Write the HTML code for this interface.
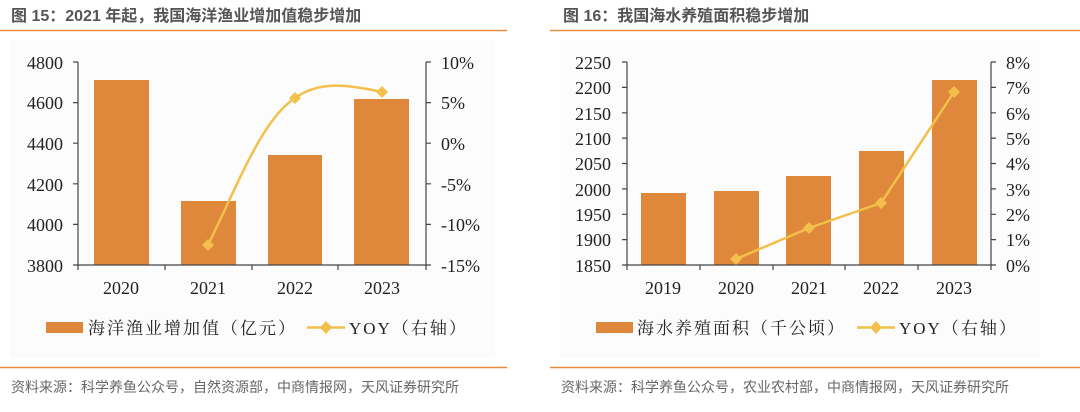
<!DOCTYPE html><html><head><meta charset="utf-8"><style>
body{margin:0;background:#fff;width:1080px;height:407px;overflow:hidden}
svg text{font-family:"Liberation Serif","Noto Serif CJK SC",serif}
.t{font-family:"Liberation Sans","Noto Sans CJK SC",sans-serif;font-weight:bold;font-size:16px;fill:#555}
.s{font-family:"Liberation Sans","Noto Sans CJK SC",sans-serif;font-size:14px;fill:#666}
.k{font-size:18px;fill:#222}
.l{font-size:17px;fill:#222;font-family:"Liberation Serif","Noto Serif CJK SC",serif;letter-spacing:2px}
</style></head><body>
<svg width="1080" height="407" xmlns="http://www.w3.org/2000/svg">
<rect x="10" y="40" width="485" height="318" fill="#fcfcfc"/>
<rect x="560" y="40" width="480" height="318" fill="#fcfcfc"/>
<text class="t" x="11" y="21">图 15：2021 年起，我国海洋渔业增加值稳步增加</text>
<text class="t" x="563" y="21">图 16：我国海水养殖面积稳步增加</text>
<line x1="0" y1="30.5" x2="507" y2="30.5" stroke="#ec8a3c" stroke-width="1.5"/>
<line x1="550" y1="30.5" x2="1080" y2="30.5" stroke="#ec8a3c" stroke-width="1.5"/>
<line x1="0" y1="367.5" x2="507" y2="367.5" stroke="#ec8a3c" stroke-width="1.5"/>
<line x1="550" y1="367.5" x2="1080" y2="367.5" stroke="#ec8a3c" stroke-width="1.5"/>
<text class="s" x="11" y="392">资料来源：科学养鱼公众号，自然资源部，中商情报网，天风证券研究所</text>
<text class="s" x="561" y="392">资料来源：科学养鱼公众号，农业农村部，中商情报网，天风证券研究所</text>

<!-- chart 1 -->
<g fill="#df873b">
<rect x="94" y="80" width="55" height="185"/><rect x="181" y="201" width="55" height="64"/>
<rect x="268" y="155" width="54" height="110"/><rect x="354" y="99" width="55" height="166"/></g>
<g stroke="#444" stroke-width="1.2" fill="none">
<path d="M78 62V265M426 62V265M78 265H426"/>
<path d="M73 62H78M73 102.6H78M73 143.2H78M73 183.8H78M73 224.4H78M73 265H78"/>
<path d="M426 62H431M426 102.6H431M426 143.2H431M426 183.8H431M426 224.4H431M426 265H431"/>
<path d="M78 265V270M165 265V270M252 265V270M338 265V270M426 265V270"/></g>
<g class="k" text-anchor="end"><text x="63" y="69">4800</text><text x="63" y="109">4600</text><text x="63" y="150">4400</text><text x="63" y="191">4200</text><text x="63" y="231">4000</text><text x="63" y="272">3800</text></g>
<g class="k"><text x="441" y="69">10%</text><text x="441" y="109">5%</text><text x="441" y="150">0%</text><text x="441" y="191">-5%</text><text x="441" y="231">-10%</text><text x="441" y="272">-15%</text></g>
<g class="k" text-anchor="middle"><text x="121" y="294">2020</text><text x="208" y="294">2021</text><text x="295" y="294">2022</text><text x="382" y="294">2023</text></g>
<path d="M208 245C240 180 262 120 295 98C320 80 350 85 382 92" stroke="#f2c04b" stroke-width="2.5" fill="none"/>
<g fill="#f2c04b"><path d="M208 239l6 6-6 6-6-6z"/><path d="M295 92l6 6-6 6-6-6z"/><path d="M382 86l6 6-6 6-6-6z"/></g>
<rect x="46" y="322" width="37" height="11" fill="#df873b"/>
<text class="l" x="88" y="334">海洋渔业增加值（亿元）</text>
<line x1="307" y1="327.5" x2="345" y2="327.5" stroke="#f2c04b" stroke-width="2.5"/><path d="M326 321l6 6.5-6 6.5-6-6.5z" fill="#f2c04b"/>
<text class="l" x="349" y="334">YOY（右轴）</text>

<!-- chart 2 -->
<g fill="#df873b">
<rect x="641" y="193" width="45" height="72"/><rect x="714" y="191" width="45" height="74"/>
<rect x="786" y="176" width="45" height="89"/><rect x="859" y="151" width="45" height="114"/><rect x="932" y="80" width="45" height="185"/></g>
<g stroke="#444" stroke-width="1.2" fill="none">
<path d="M627 62V265M991 62V265M627 265H991"/>
<path d="M622 62H627M622 87.4H627M622 112.8H627M622 138.1H627M622 163.5H627M622 188.9H627M622 214.3H627M622 239.6H627M622 265H627"/>
<path d="M991 62H996M991 87.4H996M991 112.8H996M991 138.1H996M991 163.5H996M991 188.9H996M991 214.3H996M991 239.6H996M991 265H996"/>
<path d="M627 265V270M700 265V270M773 265V270M845 265V270M918 265V270M991 265V270"/></g>
<g class="k" text-anchor="end"><text x="611" y="69">2250</text><text x="611" y="94">2200</text><text x="611" y="120">2150</text><text x="611" y="145">2100</text><text x="611" y="170">2050</text><text x="611" y="196">2000</text><text x="611" y="221">1950</text><text x="611" y="246">1900</text><text x="611" y="272">1850</text></g>
<g class="k"><text x="1006" y="69">8%</text><text x="1006" y="94">7%</text><text x="1006" y="120">6%</text><text x="1006" y="145">5%</text><text x="1006" y="170">4%</text><text x="1006" y="196">3%</text><text x="1006" y="221">2%</text><text x="1006" y="246">1%</text><text x="1006" y="272">0%</text></g>
<g class="k" text-anchor="middle"><text x="663" y="294">2019</text><text x="736" y="294">2020</text><text x="809" y="294">2021</text><text x="881" y="294">2022</text><text x="954" y="294">2023</text></g>
<path d="M736 259L809 228L881 203L954 92" stroke="#f2c04b" stroke-width="2.5" fill="none"/>
<g fill="#f2c04b"><path d="M736 253l6 6-6 6-6-6z"/><path d="M809 222l6 6-6 6-6-6z"/><path d="M881 197l6 6-6 6-6-6z"/><path d="M954 86l6 6-6 6-6-6z"/></g>
<rect x="596" y="322" width="37" height="11" fill="#df873b"/>
<text class="l" x="637" y="334">海水养殖面积（千公顷）</text>
<line x1="857" y1="327.5" x2="895" y2="327.5" stroke="#f2c04b" stroke-width="2.5"/><path d="M876 321l6 6.5-6 6.5-6-6.5z" fill="#f2c04b"/>
<text class="l" x="899" y="334">YOY（右轴）</text>
</svg>
</body></html>
